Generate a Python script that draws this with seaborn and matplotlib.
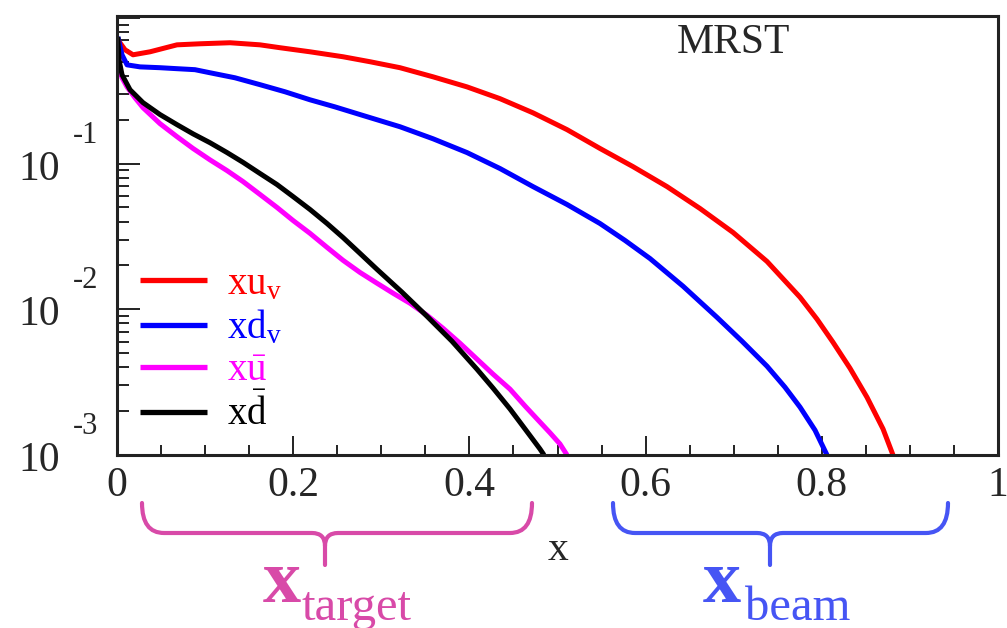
import numpy as np
import pandas as pd
import matplotlib
matplotlib.use("Agg")
import matplotlib.pyplot as plt
import seaborn as sns
from matplotlib.path import Path
from matplotlib.patches import PathPatch
from matplotlib.ticker import LogLocator, FixedLocator, NullFormatter, MultipleLocator

# ---------------- data ----------------
x_uv = [0.001, 0.0091, 0.0182, 0.0375, 0.0681, 0.0942, 0.1283, 0.1623, 0.1850,
        0.2191, 0.2565, 0.2872, 0.3212, 0.3587, 0.3973, 0.4347, 0.4722, 0.5108,
        0.5482, 0.5857, 0.6243, 0.6617, 0.6992, 0.7378, 0.7753, 0.7946, 0.8127,
        0.8320, 0.8513, 0.8695, 0.8808]
y_uv = [0.706, 0.604, 0.558, 0.585, 0.653, 0.664, 0.675, 0.653, 0.624,
        0.585, 0.541, 0.500, 0.455, 0.394, 0.336, 0.279, 0.223, 0.171,
        0.127, 0.0953, 0.0695, 0.0492, 0.0337, 0.0213, 0.0121, 0.00855, 0.00594,
        0.00394, 0.00249, 0.00151, 0.00100]

x_dv = [0.001, 0.0057, 0.0114, 0.0261, 0.0488, 0.0681, 0.0885, 0.1056, 0.1339,
        0.1623, 0.1907, 0.2191, 0.2474, 0.2758, 0.3212, 0.3587, 0.3973, 0.4347,
        0.4722, 0.5108, 0.5482, 0.5766, 0.6050, 0.6425, 0.6810, 0.7094, 0.7378,
        0.7582, 0.7753, 0.7923, 0.8059]
y_dv = [0.741, 0.558, 0.476, 0.461, 0.455, 0.448, 0.441, 0.420, 0.388,
        0.348, 0.311, 0.274, 0.245, 0.217, 0.179, 0.148, 0.119, 0.0925,
        0.0695, 0.0524, 0.0388, 0.0297, 0.0223, 0.0144, 0.00881, 0.00604, 0.00407,
        0.00292, 0.00213, 0.00148, 0.00100]

x_ubar = [0.001, 0.0023, 0.0057, 0.0114, 0.0204, 0.0295, 0.0488, 0.0681, 0.0863,
          0.1056, 0.1249, 0.1430, 0.1623, 0.1816, 0.1998, 0.2191, 0.2384, 0.2565,
          0.2758, 0.2951, 0.3133, 0.3326, 0.3519, 0.3700, 0.3893, 0.4086, 0.4268,
          0.4461, 0.4631, 0.4767, 0.4915, 0.5028, 0.5108]
y_ubar = [0.706, 0.476, 0.388, 0.336, 0.283, 0.242, 0.188, 0.153, 0.127,
          0.106, 0.0895, 0.0753, 0.0614, 0.0500, 0.0407, 0.0332, 0.0266, 0.0217,
          0.0179, 0.0151, 0.0129, 0.0110, 0.00910, 0.00741, 0.00585, 0.00455, 0.00359,
          0.00283, 0.00217, 0.00177, 0.00142, 0.00119, 0.00100]

x_dbar = [0.001, 0.0023, 0.0057, 0.0148, 0.0295, 0.0488, 0.0681, 0.0863, 0.1056,
          0.1249, 0.1430, 0.1623, 0.1816, 0.1998, 0.2191, 0.2384, 0.2565, 0.2758,
          0.2951, 0.3235, 0.3519, 0.3802, 0.4086, 0.4268, 0.4461, 0.4631, 0.4801,
          0.4847]
y_dbar = [0.741, 0.515, 0.407, 0.321, 0.262, 0.217, 0.185, 0.160, 0.139,
          0.119, 0.102, 0.0855, 0.0718, 0.0594, 0.0484, 0.0388, 0.0311, 0.0242,
          0.0188, 0.0131, 0.00895, 0.00604, 0.00388, 0.00288, 0.00207, 0.00151, 0.00110,
          0.00100]

labels = [r"$\mathrm{xu}_\mathrm{v}$", r"$\mathrm{xd}_\mathrm{v}$",
          r"$\mathrm{x}\bar{\mathrm{u}}$", r"$\mathrm{x}\bar{\mathrm{d}}$"]
colors = ["#ff0000", "#0000ff", "#ff00ff", "#000000"]

x_ticks = [0, 0.2, 0.4, 0.6, 0.8, 1]
x_ticklabels = ["0", "0.2", "0.4", "0.6", "0.8", "1"]
y_exponents = [-1, -2, -3]

# ---------------- style ----------------
sns.set_style("white")
plt.rcParams["font.family"] = ["Liberation Serif", "DejaVu Serif"]
plt.rcParams["mathtext.fontset"] = "custom"
plt.rcParams["mathtext.rm"] = "Liberation Serif"
plt.rcParams["mathtext.it"] = "Liberation Serif:italic"
plt.rcParams["mathtext.bf"] = "Liberation Serif:bold"

W, H = 1007, 628
fig = plt.figure(figsize=(W / 100, H / 100), dpi=100)
fig.patch.set_facecolor("white")
ax = fig.add_axes([117 / W, 1 - 455 / H, 881 / W, 439 / H])

series = [(x_uv, y_uv), (x_dv, y_dv), (x_ubar, y_ubar), (x_dbar, y_dbar)]
for (xs, ys), c, lab in zip(series, colors, labels):
    sns.lineplot(x=xs, y=ys, color=c, lw=3.6, label=lab, ax=ax,
                 estimator=None, sort=False, solid_capstyle="butt",
                 solid_joinstyle="round")

ax.set_yscale("log")
ax.set_xlim(0, 1)
ax.set_ylim(1e-3, 1.03)

# ticks
ax.xaxis.set_major_locator(FixedLocator(x_ticks))
ax.set_xticklabels(x_ticklabels, fontsize=30)
ax.xaxis.set_minor_locator(MultipleLocator(0.05))
ax.yaxis.set_major_locator(FixedLocator([1e-3, 1e-2, 1e-1, 1.0]))
ax.yaxis.set_major_formatter(NullFormatter())
ax.yaxis.set_minor_locator(LogLocator(base=10, subs=np.arange(2, 10)))
ax.yaxis.set_minor_formatter(NullFormatter())
ax.tick_params(axis="both", which="both", direction="in", width=1.4,
               color="#222222", top=False, right=False, left=True, bottom=True)
ax.tick_params(axis="x", which="major", length=14, pad=8)
ax.tick_params(axis="x", which="minor", length=7)
ax.tick_params(axis="y", which="major", length=16.5)
ax.tick_params(axis="y", which="minor", length=8.5)

for s in ax.spines.values():
    s.set_visible(True)
    s.set_linewidth(2.2)
    s.set_color("#222222")

# y tick labels in "10^-n" style
for e in y_exponents:
    ax.annotate("10", xy=(0, 10.0 ** e), xycoords=("axes fraction", "data"),
                xytext=(-57, -16), textcoords="offset pixels", ha="right",
                va="baseline", fontsize=30, annotation_clip=False)
    ax.annotate(f"{e}", xy=(0, 10.0 ** e), xycoords=("axes fraction", "data"),
                xytext=(-44, 21), textcoords="offset pixels", ha="left",
                va="baseline", fontsize=22, annotation_clip=False)

# x label
ax.set_xlabel("x", fontsize=30)
ax.xaxis.label.set_va("baseline")
ax.xaxis.set_label_coords((558 - 117) / 881, (455 - 560) / 439)
ax.set_ylabel("")

# MRST
ax.text((733 - 117) / 881, (455 - 53) / 439, "MRST", transform=ax.transAxes,
        ha="center", va="baseline", fontsize=30)

# legend
leg = ax.legend(loc="upper left", bbox_to_anchor=(23 / 881, (455 - 266) / 439),
                frameon=False, fontsize=28, handlelength=1.72, handletextpad=0.52,
                labelspacing=0.14, borderpad=0, borderaxespad=0)
for t, ln in zip(leg.get_texts(), leg.get_lines()):
    t.set_color(ln.get_color())
    ln.set_linewidth(3.8)


# braces below the axis (figure pixel coordinates -> figure fraction)
def brace(x0, x1, xt, ytop, ymid, ybot, color, r=22, rt=13):
    def f(px, py):
        return (px / W, 1 - py / H)
    verts = [f(x0, ytop), f(x0, ymid), f(x0 + r, ymid), f(xt - rt, ymid),
             f(xt, ymid), f(xt, ymid + rt), f(xt, ybot),
             f(xt, ymid + rt), f(xt, ymid), f(xt + rt, ymid), f(x1 - r, ymid),
             f(x1, ymid), f(x1, ytop)]
    codes = [Path.MOVETO, Path.CURVE3, Path.CURVE3, Path.LINETO,
             Path.CURVE3, Path.CURVE3, Path.LINETO,
             Path.MOVETO, Path.CURVE3, Path.CURVE3, Path.LINETO,
             Path.CURVE3, Path.CURVE3]
    p = PathPatch(Path(verts, codes), transform=fig.transFigure, fill=False,
                  edgecolor=color, lw=3.0, capstyle="round")
    fig.add_artist(p)


pink = "#d84aa8"
blue = "#4655f4"
brace(142, 532, 325, 503, 533, 565, pink)
brace(613, 948, 770, 503, 533, 565, blue)

fig.text(263 / W, 1 - 602 / H, "x", color=pink, fontsize=55, fontweight="bold",
         ha="left", va="baseline")
fig.text(302 / W, 1 - 620 / H, "target", color=pink, fontsize=35,
         ha="left", va="baseline")
fig.text(703 / W, 1 - 602 / H, "x", color=blue, fontsize=55, fontweight="bold",
         ha="left", va="baseline")
fig.text(745 / W, 1 - 620 / H, "beam", color=blue, fontsize=35,
         ha="left", va="baseline")

fig.savefig("out.png", dpi=100, facecolor="white")
